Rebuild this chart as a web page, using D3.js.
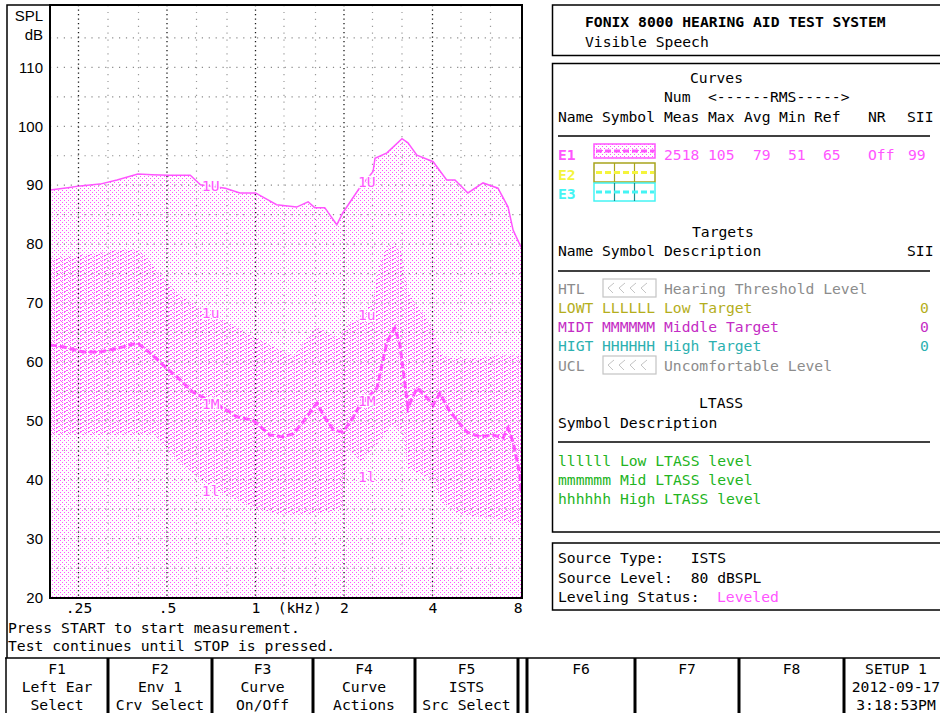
<!DOCTYPE html>
<html>
<head>
<meta charset="utf-8">
<script src="https://cdn.jsdelivr.net/npm/d3@7"></script>
<style>
  html, body { margin: 0; padding: 0; background: #fff; }
  svg { display: block; }
</style>
</head>
<body>
<script>
// ---- data (kHz / dB SPL) ----
// 1U : upper edge of the speech envelope
const upperFreq = [0.2, 0.23, 0.253, 0.296, 0.338, 0.398, 0.445, 0.504, 0.6, 0.65, 0.79, 0.885, 1.0, 1.18, 1.38, 1.51, 1.59, 1.72, 1.89, 1.98, 2.27, 2.51, 2.55, 2.8, 3.15, 3.3, 3.54, 4.02, 4.47, 4.77, 5.28, 5.94, 6.68, 7.23, 7.52, 8];
const upperDb = [89.1, 89.5, 89.8, 90.1, 90.8, 91.8, 91.7, 91.6, 91.6, 90.0, 89.4, 88.6, 88.6, 86.6, 86.2, 87.1, 86.1, 86.1, 83.2, 85.2, 89.6, 92.2, 94.5, 95.4, 97.8, 97.1, 95.0, 93.9, 90.8, 90.8, 88.6, 90.3, 89.4, 86.2, 82.3, 79.4];

// 1u / 1l : hatched band
const bandTopFreq = [0.2, 0.25, 0.3, 0.35, 0.4, 0.43, 0.47, 0.5, 0.56, 0.63, 0.72, 0.85, 1.0, 1.2, 1.35, 1.5, 1.6, 1.75, 1.9, 2.05, 2.3, 2.5, 2.62, 2.8, 2.95, 3.15, 3.3, 3.5, 4.0, 4.3, 4.8, 5.5, 6.5, 7.3, 8];
const bandTopDb = [77.5, 78, 78.5, 79, 79, 77.5, 75, 73.5, 71, 69.5, 68, 66, 64, 62, 61, 64, 66, 65, 64, 66, 68, 70, 76, 79.5, 80, 78.5, 72, 70, 66, 61, 60.5, 60.5, 61, 61, 61];
const bandLowFreq = [0.2, 0.3, 0.45, 0.5, 0.56, 0.65, 0.75, 0.9, 1.0, 1.2, 1.5, 1.8, 1.98, 2.05, 2.3, 2.6, 2.9, 3.15, 3.3, 3.6, 4.0, 4.3, 5.0, 6.0, 7.0, 8];
const bandLowDb = [47.5, 47.5, 47.5, 45, 42.5, 40, 38, 36, 35, 34, 34, 34.5, 35, 45, 43, 46, 49, 48, 42, 41, 40, 36, 34, 33.5, 33, 32];

// 1M : LTASS (mean)
const midFreq = [0.2, 0.221, 0.259, 0.296, 0.338, 0.374, 0.398, 0.438, 0.484, 0.54, 0.612, 0.775, 0.865, 0.98, 1.12, 1.24, 1.34, 1.45, 1.57, 1.62, 1.7, 1.84, 1.98, 2.1, 2.27, 2.59, 2.8, 2.98, 3.1, 3.3, 3.54, 3.83, 4.02, 4.24, 4.59, 5.24, 5.8, 6.43, 6.95, 7.23, 7.52, 7.94, 8];
const midDb = [62.8, 62.5, 61.6, 61.6, 62.2, 62.8, 63.1, 61.4, 59.4, 57.4, 54.8, 52.1, 50.6, 50, 47.5, 47.2, 47.7, 49.7, 52.1, 52.9, 50.9, 48.4, 48, 49.7, 52.6, 55.5, 63.3, 65.7, 62.8, 52.1, 55.5, 53.8, 52.6, 54.6, 51.4, 48, 47.2, 47.5, 47, 48.7, 46.3, 40.7, 38];

// curve labels (two copies of each)
const curveLabels = ["1U", "1u", "1M", "1l"];
const labelFreqs = [0.657, 2.23];
const labelDb = [[89.7, 90.5], [68.2, 67.8], [52.8, 53.3], [38.0, 40.4]];

const yTicks = [20, 30, 40, 50, 60, 70, 80, 90, 100, 110];
const xTicks = [0.25, 0.5, 1, 2, 4, 8];
const xTickText = [".25", ".5", "1", "2", "4", "8"];
const majorFreqs = [0.25, 0.5, 1, 2, 4];
const minorFreqs = [0.315, 0.4, 0.63, 0.8, 1.25, 1.6, 2.5, 3.15, 5, 6.3];

// curves table
const curveHead = ["Name", "Symbol", "Meas", "Max", "Avg", "Min", "Ref", "NR", "SII"];
const curveNames = ["E1", "E2", "E3"];
const e1Stats = ["2518", "105", "79", "51", "65", "Off", "99"];

const targetNames = ["HTL", "LOWT", "MIDT", "HIGT", "UCL"];
const targetSymbols = [null, "LLLLLL", "MMMMMM", "HHHHHH", null];
const targetDesc = ["Hearing Threshold Level", "Low Target", "Middle Target", "High Target", "Uncomfortable Level"];
const targetSii = ["", "0", "0", "0", ""];

const ltassRows = ["llllll Low LTASS level", "mmmmmm Mid LTASS level", "hhhhhh High LTASS level"];

const fKeyTop = ["F1", "F2", "F3", "F4", "F5", "F6", "F7", "F8", "SETUP 1"];
const fKeyMid = ["Left Ear", "Env 1", "Curve", "Curve", "ISTS", "", "", "", "2012-09-17"];
const fKeyLow = ["Select", "Crv Select", "On/Off", "Actions", "Src Select", "", "", "", "3:18:53PM"];

// ---- setup ----
const width = 940;
const height = 713;
const mono = "'DejaVu Sans Mono', 'Liberation Mono', monospace";
const sans = "'Liberation Sans', Arial, sans-serif";
const fs = 14.7;
const PINK = "#ff55ff";

const svg = d3.select("body").append("svg")
  .attr("width", width)
  .attr("height", height)
  .style("background", "#fff");

const x = d3.scaleLog().domain([0.2, 8]).range([50, 521]);
const y = d3.scaleLinear().domain([20, 120]).range([597, 8]);

const zip = (fsArr, dbArr) => fsArr.map((f, i) => ({ f, v: dbArr[i] }));
const upper = zip(upperFreq, upperDb);
const bandTop = zip(bandTopFreq, bandTopDb);
const bandLow = zip(bandLowFreq, bandLowDb);
const mid = zip(midFreq, midDb);

function txt(g, x0, y0, s, opt = {}) {
  return g.append("text")
    .attr("x", x0)
    .attr("y", y0)
    .attr("font-family", opt.font || mono)
    .attr("font-size", opt.size || fs)
    .attr("font-weight", opt.bold ? "bold" : null)
    .attr("text-anchor", opt.anchor || "start")
    .attr("fill", opt.color || "#000")
    .style("white-space", "pre")
    .text(s);
}

// patterns
const defs = svg.append("defs");
const dots = defs.append("pattern")
  .attr("id", "dots")
  .attr("patternUnits", "userSpaceOnUse")
  .attr("width", 4)
  .attr("height", 4);
dots.append("rect").attr("x", 0).attr("y", 0).attr("width", 1).attr("height", 1).attr("fill", PINK);
dots.append("rect").attr("x", 2).attr("y", 2).attr("width", 1).attr("height", 1).attr("fill", PINK);

// diagonal stripes, drawn as single pixels so they stay crisp
const hatch = defs.append("pattern")
  .attr("id", "hatch")
  .attr("patternUnits", "userSpaceOnUse")
  .attr("width", 8)
  .attr("height", 4);
[[0, 3], [1, 3], [2, 2], [3, 2], [5, 1], [6, 0]].forEach(([px, py]) => {
  hatch.append("rect")
    .attr("x", px).attr("y", py)
    .attr("width", 1).attr("height", 1)
    .attr("fill", PINK);
});

const clip = defs.append("clipPath").attr("id", "plotClip");
clip.append("rect").attr("x", 50).attr("y", 5).attr("width", 472).attr("height", 593);

const plot = svg.append("g").attr("clip-path", "url(#plotClip)");

// dotted area under 1U
plot.append("path")
  .datum(upper)
  .attr("d", d3.area().x((d) => x(d.f)).y0(y(20)).y1((d) => y(d.v)))
  .attr("fill", "url(#dots)");

// hatched band between 1u and 1l
const bandPts = bandTop.map((d) => [x(d.f), y(d.v)])
  .concat(bandLow.slice().reverse().map((d) => [x(d.f), y(d.v)]));
plot.append("path")
  .attr("d", d3.line()(bandPts) + "Z")
  .attr("fill", "url(#hatch)");

// grid
plot.append("g")
  .selectAll("line")
  .data(d3.range(25, 120, 5))
  .join("line")
  .attr("x1", 50).attr("x2", 522)
  .attr("y1", (d) => y(d) + 0.5).attr("y2", (d) => y(d) + 0.5)
  .attr("stroke", "#8a8a8a")
  .attr("stroke-width", 1.2)
  .attr("stroke-dasharray", "1.2,5.7");

plot.append("g")
  .selectAll("line")
  .data(minorFreqs)
  .join("line")
  .attr("x1", (d) => x(d)).attr("x2", (d) => x(d))
  .attr("y1", 5).attr("y2", 598)
  .attr("stroke", "#9a9a9a")
  .attr("stroke-width", 1.2)
  .attr("stroke-dasharray", "1.2,5.7");

plot.append("g")
  .selectAll("line")
  .data(majorFreqs)
  .join("line")
  .attr("x1", (d) => x(d)).attr("x2", (d) => x(d))
  .attr("y1", 5).attr("y2", 598)
  .attr("stroke", "#1a1a1a")
  .attr("stroke-width", 1.3)
  .attr("stroke-dasharray", "1.3,3.2");

// 1U line
plot.append("path")
  .datum(upper)
  .attr("d", d3.line().x((d) => x(d.f)).y((d) => y(d.v)))
  .attr("fill", "none")
  .attr("stroke", PINK)
  .attr("stroke-width", 1.5);

// 1M line
plot.append("path")
  .datum(mid)
  .attr("d", d3.line().x((d) => x(d.f)).y((d) => y(d.v)))
  .attr("fill", "none")
  .attr("stroke", PINK)
  .attr("stroke-width", 3)
  .attr("stroke-dasharray", "7,3");

// curve labels
curveLabels.forEach((lab, i) => {
  labelFreqs.forEach((f, j) => {
    txt(plot, x(f), y(labelDb[i][j]) + 5, lab, { color: PINK })
      .attr("stroke", "#fff")
      .attr("stroke-width", 2.5)
      .attr("paint-order", "stroke");
  });
});

// plot frame
svg.append("rect")
  .attr("x", 50).attr("y", 5)
  .attr("width", 472).attr("height", 593)
  .attr("fill", "none")
  .attr("stroke", "#000")
  .attr("stroke-width", 2);

// y axis
const yAxis = svg.append("g")
  .attr("transform", "translate(50,0)")
  .call(d3.axisLeft(y).tickValues(yTicks).tickSize(0).tickPadding(7));
yAxis.select(".domain").remove();
yAxis.selectAll("text")
  .attr("font-family", sans)
  .attr("font-size", 15)
  .attr("fill", "#000")
  .attr("dy", "0.35em");

txt(svg, 43, 21, "SPL", { font: sans, size: 15, anchor: "end" });
txt(svg, 43, 40, "dB", { font: sans, size: 15, anchor: "end" });

// x axis
const xAxis = svg.append("g")
  .attr("transform", "translate(0,597)")
  .call(d3.axisBottom(x).tickValues(xTicks).tickSize(0).tickPadding(5.5)
    .tickFormat((d, i) => xTickText[i]));
xAxis.select(".domain").remove();
xAxis.selectAll("text")
  .attr("font-family", mono)
  .attr("font-size", fs)
  .attr("fill", "#000")
  .attr("text-anchor", (d) => (d === 8 ? "end" : "middle"))
  .attr("dx", (d) => (d === 8 ? 1 : 0));
txt(svg, (x(1) + x(2)) / 2, 613, "(kHz)", { anchor: "middle" });

// left panel frame and messages
svg.append("path")
  .attr("d", "M7,658 V5 H50")
  .attr("fill", "none")
  .attr("stroke", "#000")
  .attr("stroke-width", 1.5);
txt(svg, 8, 633, "Press START to start measurement.");
txt(svg, 8, 651, "Test continues until STOP is pressed.");

// ---- right panel ----
const rp = svg.append("g");
const box = (x0, y0, w, h) => rp.append("rect")
  .attr("x", x0).attr("y", y0).attr("width", w).attr("height", h)
  .attr("fill", "none").attr("stroke", "#000").attr("stroke-width", 1.5);

box(552.5, 5, 400, 50.5);
txt(rp, 585, 27, "FONIX 8000 HEARING AID TEST SYSTEM", { bold: true });
txt(rp, 585, 47, "Visible Speech");

box(552.5, 63.5, 400, 468.5);
txt(rp, 690, 83, "Curves");
txt(rp, 664, 102, "Num");
txt(rp, 708, 102, "<------RMS----->");
const headX = [558, 602, 664, 708, 744, 779, 814, 868, 907];
curveHead.forEach((h, i) => txt(rp, headX[i], 122, h));
rp.append("line").attr("x1", 558).attr("x2", 930).attr("y1", 136).attr("y2", 136)
  .attr("stroke", "#000").attr("stroke-width", 1.5);

const curveColors = [PINK, "#f4f43c", "#44f4f4"];
const curveEdge = [PINK, "#a8a41c", "#44f4f4"];
const curveDiv = [PINK, "#a8a41c", "#1c8c8c"];
const rowY = [160, 180, 199];
const boxY = [144, 163, 183];
const boxH = [14, 19, 18];
curveNames.forEach((n, i) => {
  txt(rp, 558, rowY[i], n, { color: curveColors[i], bold: true });
  const bx = rp.append("g");
  bx.append("rect").attr("x", 594).attr("y", boxY[i]).attr("width", 61).attr("height", boxH[i])
    .attr("fill", i === 0 ? "url(#dots)" : "none")
    .attr("stroke", curveEdge[i]).attr("stroke-width", 1.5);
  if (i > 0) {
    [614.5, 634.5].forEach((dx) => bx.append("line")
      .attr("x1", dx).attr("x2", dx).attr("y1", boxY[i]).attr("y2", boxY[i] + boxH[i])
      .attr("stroke", curveDiv[i]).attr("stroke-width", 1.2));
  }
  bx.append("line")
    .attr("x1", 596).attr("x2", 654)
    .attr("y1", boxY[i] + boxH[i] / 2).attr("y2", boxY[i] + boxH[i] / 2)
    .attr("stroke", curveColors[i]).attr("stroke-width", 3)
    .attr("stroke-dasharray", "6,3");
});
const statX = [664, 708, 753, 788, 823, 868, 908];
e1Stats.forEach((s, i) => txt(rp, statX[i], 160, s, { color: PINK }));

txt(rp, 692, 237, "Targets");
txt(rp, 558, 256, "Name");
txt(rp, 602, 256, "Symbol");
txt(rp, 664, 256, "Description");
txt(rp, 907, 256, "SII");
rp.append("line").attr("x1", 558).attr("x2", 930).attr("y1", 271).attr("y2", 271)
  .attr("stroke", "#000").attr("stroke-width", 1.5);

const targetColors = ["#8c8c8c", "#b4ae1c", "#c42cc4", "#2cb0b0", "#8c8c8c"];
const tRowY = [294, 313, 332, 351, 371];
targetNames.forEach((n, i) => {
  const c = targetColors[i];
  txt(rp, 558, tRowY[i], n, { color: c });
  if (targetSymbols[i]) {
    txt(rp, 602, tRowY[i], targetSymbols[i], { color: c });
  } else {
    const by = tRowY[i] - 15;
    rp.append("rect").attr("x", 603).attr("y", by).attr("width", 53).attr("height", 18)
      .attr("fill", "none").attr("stroke", "#c4c4c4").attr("stroke-width", 1.2);
    d3.range(4).forEach((k) => {
      const cx = 611 + k * 11;
      rp.append("path")
        .attr("d", `M${cx + 3},${by + 4} L${cx - 3},${by + 9} L${cx + 2},${by + 14}`)
        .attr("fill", "none").attr("stroke", "#c4c4c4").attr("stroke-width", 1);
    });
  }
  txt(rp, 664, tRowY[i], targetDesc[i], { color: c });
  if (targetSii[i]) txt(rp, 920, tRowY[i], targetSii[i], { color: c });
});

txt(rp, 699, 408, "LTASS");
txt(rp, 558, 428, "Symbol");
txt(rp, 620, 428, "Description");
rp.append("line").attr("x1", 558).attr("x2", 930).attr("y1", 442).attr("y2", 442)
  .attr("stroke", "#000").attr("stroke-width", 1.5);
ltassRows.forEach((s, i) => txt(rp, 558, 466 + i * 19, s, { color: "#22b422" }));

box(552.5, 543, 400, 67);
txt(rp, 558, 563, "Source Type:   ISTS");
txt(rp, 558, 583, "Source Level:  80 dBSPL");
txt(rp, 558, 602, "Leveling Status:");
txt(rp, 717, 602, "Leveled", { color: PINK });

// ---- function keys ----
const fk = svg.append("g");
const keyEdges = [6, 108, 212, 313, 415, 518, 527, 635, 739, 844, 950];
const keyCells = [[6, 108], [108, 212], [212, 313], [313, 415], [415, 518], [527, 635], [635, 739], [739, 844], [844, 950]];
fk.append("line").attr("x1", 5).attr("x2", 940).attr("y1", 658).attr("y2", 658)
  .attr("stroke", "#000").attr("stroke-width", 1.5);
keyEdges.forEach((e) => fk.append("line")
  .attr("x1", e).attr("x2", e).attr("y1", 658).attr("y2", 713)
  .attr("stroke", "#000").attr("stroke-width", e === 6 ? 1.5 : 3));
keyCells.forEach((c, i) => {
  const cx = i === 8 ? 896 : (c[0] + c[1]) / 2;
  txt(fk, cx, 674, fKeyTop[i], { anchor: "middle" });
  txt(fk, cx, 692, fKeyMid[i], { anchor: "middle" });
  txt(fk, cx, 710, fKeyLow[i], { anchor: "middle" });
});
</script>
</body>
</html>
